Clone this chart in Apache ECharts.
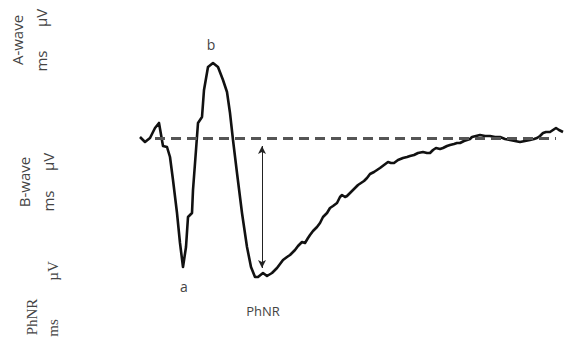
<!DOCTYPE html>
<html>
<head>
<meta charset="utf-8">
<script src="https://cdn.jsdelivr.net/npm/echarts@6/dist/echarts.min.js"></script>
<style>
  html, body { margin: 0; padding: 0; background: #fff; }
  #chart { width: 564px; height: 347px; }
</style>
</head>
<body>
<div id="chart"></div>
<script>
// 波形 (x: 时间, y: 振幅, 以基线为 0)
var waveX = [140, 145, 150, 155, 159, 163, 167, 170, 173, 177, 180, 183, 186, 188, 192, 193, 196, 198, 202, 204,
  208, 213, 218, 223, 227, 230, 233, 237, 242, 247, 251, 255, 258, 263, 267, 272, 277,
  283, 287, 290, 293, 295, 298, 302, 305, 308, 310, 313, 317, 320, 323, 327, 330, 333, 337, 340, 342,
  345, 347, 350, 353, 356, 358, 361, 364, 367, 370, 374, 377, 380, 384, 388, 391, 394, 398, 403, 407,
  410, 414, 418, 423, 427, 430, 433, 436, 440, 443, 447, 450, 454, 457, 460, 464, 467, 470, 472, 476,
  480, 485, 490, 495, 500, 505, 510, 515, 520, 525, 530, 534, 537, 540, 543, 546, 550, 553, 556, 559, 563];
var waveY = [1, -4, 0, 10, 15, -8, -9, -19, -42, -75, -105, -129, -109, -79, -75, -52, -12, 15, 21, 48,
  71, 75, 71, 58, 46, 25, -2, -35, -75, -109, -129, -139, -139, -135, -138, -135, -130,
  -122, -119, -117, -114, -112, -108, -104, -105, -100, -97, -93, -89, -85, -79, -75, -70, -68, -65, -59, -57,
  -59, -58, -55, -52, -49, -47, -45, -43, -40, -36, -34, -32, -30, -27, -24, -25, -25, -22, -20, -19,
  -18, -17, -15, -14, -15, -15, -12, -10, -11, -10, -8, -7, -6, -5, -5, -3, -2, -1, 1, 2,
  3, 2, 2, 1, 1, -1, -2, -3, -4, -3, -2, -1, 0, 2, 5, 6, 6, 8, 10, 8, 6];
// 基线 (虚线) 起止
var baseStart = 155;
var baseEnd = 556;
// PhNR 箭头
var arrowX = 262;
var arrowTop = -8;
var arrowBottom = -130;

var chart = echarts.init(document.getElementById("chart"), null, { renderer: "svg" });

var points = waveX.map(function (x, i) { return [x, waveY[i]]; });

function label(text, x, y, font, rotate) {
  return {
    type: "text", x: x, y: y, rotation: rotate ? Math.PI / 2 : 0,
    style: { text: text, font: font, fill: "#444", align: "center", verticalAlign: "middle" }
  };
}
var sans = "15px 'Open Sans'";
var serif = "15px 'Liberation Serif'";

chart.setOption({
  animation: false,
  grid: { left: 0, right: 0, top: 0, bottom: 0 },
  xAxis: { type: "value", min: 0, max: 564, show: false },
  yAxis: { type: "value", min: -209, max: 138, show: false },
  series: [
    {
      type: "line",
      data: points,
      symbol: "none",
      lineStyle: { color: "#111", width: 2.6, join: "round" },
      z: 3,
      markLine: {
        silent: true,
        symbol: "none",
        label: { show: false },
        data: [
          [
            { coord: [baseStart, 0], lineStyle: { type: [10, 6], color: "#555", width: 3 } },
            { coord: [baseEnd, 0] }
          ]
        ]
      }
    },
    {
      type: "line",
      data: [],
      markLine: {
        silent: true,
        symbol: ["arrow", "arrow"],
        symbolSize: [6, 8],
        label: { show: false },
        lineStyle: { type: "solid", color: "#222", width: 1 },
        data: [
          [{ coord: [arrowX, arrowTop] }, { coord: [arrowX, arrowBottom] }]
        ]
      }
    }
  ],
  graphic: [
    label("b", 211, 44, "14px 'Open Sans'"),
    label("a", 184, 286, "14px 'Open Sans'"),
    label("PhNR", 263, 311, "13px 'Open Sans'"),

    label("A-wave", 17, 40, sans, true),
    label("ms", 41, 61, sans, true),
    label("µV", 41, 18, sans, true),
    label("B-wave", 24, 182, sans, true),
    label("ms", 48, 201, sans, true),
    label("µV", 48, 162, sans, true),
    label("PhNR", 32, 317, serif, true),
    label("ms", 53, 328, serif, true),
    label("µV", 53, 271, serif, true)
  ]
});
</script>
</body>
</html>
